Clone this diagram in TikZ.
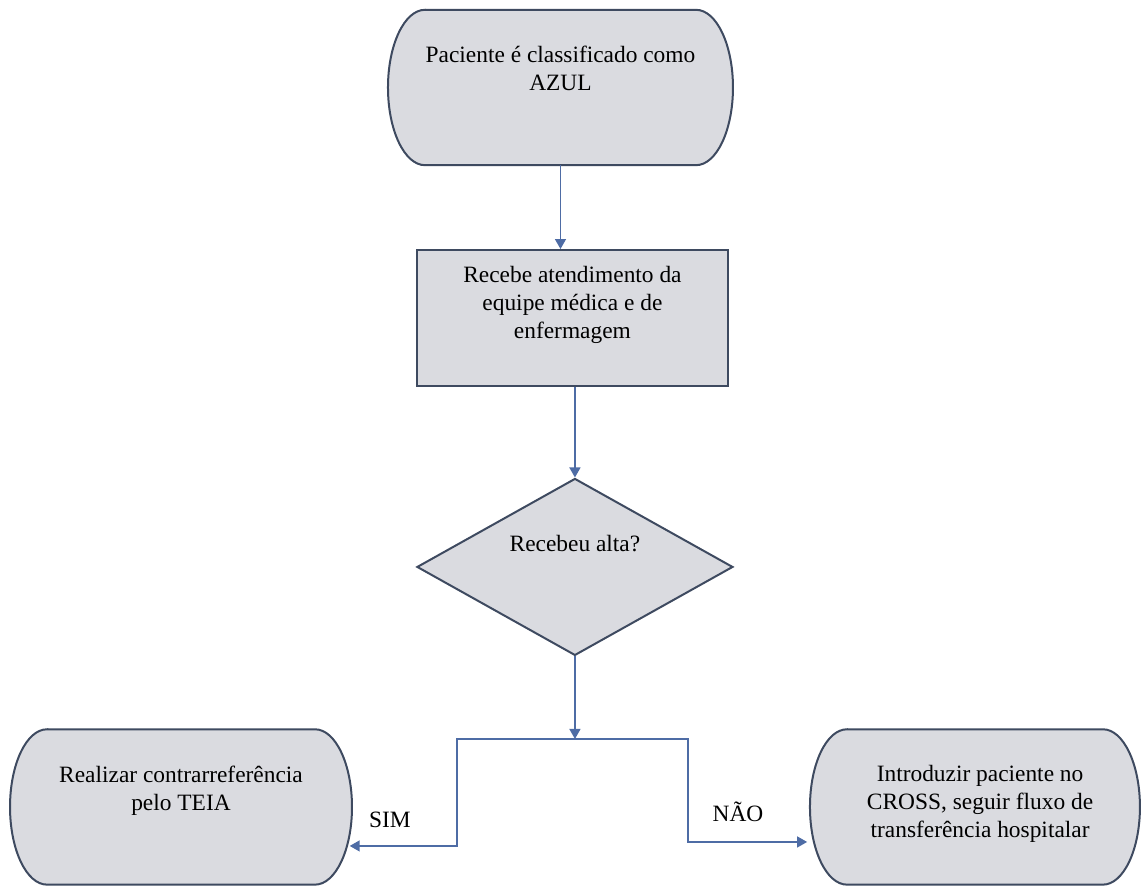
\documentclass[tikz,border=0pt]{standalone}
\usepackage{fontspec}
\setmainfont{Liberation Serif}
\usetikzlibrary{shapes.geometric,arrows.meta,backgrounds}

\definecolor{borda}{RGB}{62,74,96}
\definecolor{cinza}{RGB}{218,219,224}
\definecolor{azulseta}{RGB}{78,108,165}

\tikzset{
  texto/.style={align=center},
  terminal/.style={rectangle,minimum width=#1,minimum height=2.73cm,inner sep=0pt,outer sep=0pt},
  contorno/.style={draw=borda,fill=cinza,line width=1pt},
  caixa/.style={rectangle,contorno,minimum width=5.465cm,minimum height=2.39cm,inner sep=0pt},
  decisao/.style={diamond,contorno,minimum width=5.553cm,minimum height=3.11cm,inner sep=0pt},
  seta/.style={draw=azulseta,line width=0.75pt,-{Triangle[length=5pt,width=5.5pt]}},
}

\begin{document}
\begin{tikzpicture}[font=\fontsize{11.7pt}{14pt}\selectfont]
	\useasboundingbox (0,0) rectangle (20.14,15.57);
	%shapes
	\node[terminal=6.063cm,label={[texto,yshift=0.343cm]center:{Paciente é classificado como\\AZUL}}] (inicio) at (9.85,14.032) {}; %start
	\node[caixa,label={[texto,yshift=0.228cm]center:{Recebe atendimento da\\equipe médica e de\\enfermagem}}] (atend) at (10.06,9.981) {}; %care
	\node[decisao,label={[texto,yshift=0.404cm]center:{Recebeu alta?}}] (alta) at (10.104,5.606) {}; %decision
	\node[terminal=6.01cm,label={[texto,yshift=0.281cm]center:{Realizar contrarreferência\\pelo TEIA}}] (sim) at (3.181,1.388) {}; %yes
	\node[terminal=5.799cm,label={[texto,xshift=0.09cm,yshift=0.05cm]center:{Introduzir paciente no\\CROSS, seguir fluxo de\\transferência hospitalar}}] (nao) at (17.134,1.388) {}; %no

	%terminal outlines
	\begin{scope}[on background layer]
	\foreach \n in {inicio,sim,nao}
	  \draw[contorno] ([xshift=0.65cm]\n.north west) -- ([xshift=-0.65cm]\n.north east)
	    arc[start angle=90,end angle=-90,x radius=0.65cm,y radius=1.365cm]
	    -- ([xshift=0.65cm]\n.south west)
	    arc[start angle=270,end angle=90,x radius=0.65cm,y radius=1.365cm] -- cycle;
	\end{scope}

	%branch points
	\coordinate (bifurca) at (alta.south |- 0,2.583);
	\coordinate (dobraE) at (8.031,2.583);
	\coordinate (dobraD) at (12.09,2.583);

	%arrows
	\draw[seta] (inicio.south) -- (inicio.south |- atend.north);
	\draw[seta] (alta.north |- atend.south) -- (alta.north);
	\draw[seta] (alta.south) -- (bifurca);
	\draw[seta] (bifurca) -- (dobraE) |- ([xshift=-0.04cm,yshift=-0.685cm]sim.east); %SIM
	\draw[seta] (bifurca) -- (dobraD) |- ([xshift=-0.05cm,yshift=-0.615cm]nao.west); %NAO

	%labels
	\node (lsim) at (6.853,1.16) {SIM};
	\node (lnao) at (12.969,1.3) {NÃO};
\end{tikzpicture}
\end{document}
